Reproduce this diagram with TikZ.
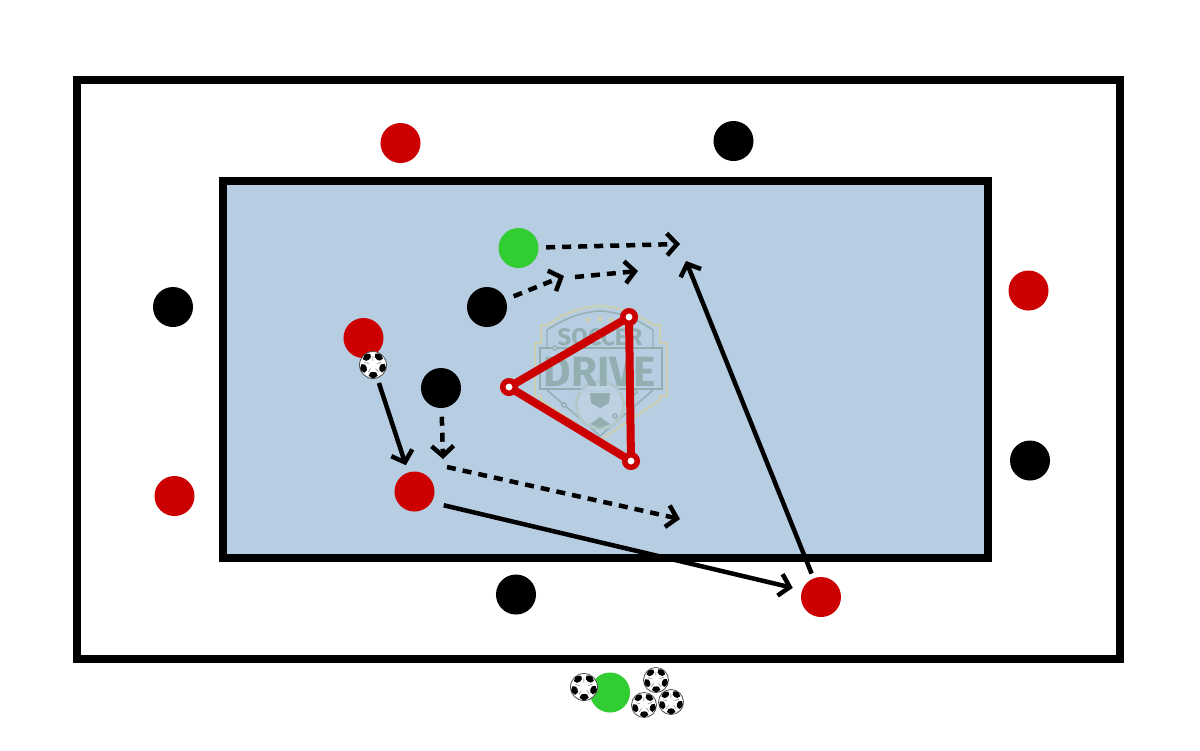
\documentclass[tikz,border=0pt]{standalone}
\usepackage{fontspec}
\setsansfont{Fira Sans}
\usepackage{xcolor}
\usetikzlibrary{arrows.meta,shapes.geometric}
\definecolor{pitchblue}{HTML}{B7CDE1}
\definecolor{playerred}{HTML}{CC0000}
\definecolor{playergreen}{HTML}{32CD32}
\definecolor{logogrey}{HTML}{92AEB0}
\definecolor{logopale}{HTML}{CBD1B0}
\tikzset{
  player/.style={circle,inner sep=0pt,minimum size=0.4cm,fill=#1},
  cone/.style={circle,inner sep=0pt,minimum size=0.125cm,fill=white,draw=playerred,line width=0.055cm},
  line/.style={line width=0.08cm,draw=black},
  run/.style={line width=0.045cm,->,dash pattern=on 0.09cm off 0.07cm},
  pass/.style={line width=0.045cm,->},
  ball/.style={circle,inner sep=0pt,minimum size=#1,fill=white,draw=black!70,line width=0.008cm,
    path picture={\begin{scope}[shift={(path picture bounding box.center)},x=#1,y=#1]
      \foreach \a in {55,127,199,271,343} {
        \fill[black] (\a:0.25) -- (\a+22:0.3) -- (\a+23:0.43) -- (\a:0.52) -- (\a-23:0.43) -- (\a-22:0.3) -- cycle;
        \draw[black!60,line width=0.004cm] (\a+36:0.16) -- (\a+36:0.33);
      }
    \end{scope}}},
}
\begin{document}
\begin{tikzpicture}[x=0.01cm,y=-0.01cm,>={Straight Barb[length=0.1cm,width=0.22cm]}]
\useasboundingbox (0,0) rectangle (1200,750);
\draw[line] (77,80) rectangle (1120,659);
\draw[line,fill=pitchblue] (223,181) rectangle (988,558);
% logo
\draw[logopale,line width=0.02cm] (600,306) .. controls (580,307) and (560,315) .. (548,325) -- (541,325) -- (541,343) -- (535,343) -- (535,396) -- (541,396) -- (541,400) -- (600,440) -- (660,400) -- (660,396) -- (667,396) -- (667,343) -- (660,343) -- (660,325) -- (653,325) .. controls (640,315) and (620,307) .. (600,306) -- cycle;
\draw[logogrey,line width=0.014cm] (600,311) .. controls (582,312) and (565,318) .. (547,330) -- (547,348);
\draw[logogrey,line width=0.014cm] (600,311) .. controls (618,312) and (635,318) .. (653,330) -- (653,348);
\draw[logogrey,line width=0.014cm] (547,390) -- (600,436) -- (653,390);
\draw[logogrey,line width=0.014cm] (540,348) rectangle (662,389);
\fill[logogrey!70] (600,405) circle (25);
\fill[pitchblue!92!white] (600,405) circle (22);
\fill[logogrey] (590,393) -- (610,393) -- (609,403) -- (600,408) -- (591,403) -- cycle;
\fill[logogrey] (590,424) -- (600,417) -- (610,424) -- (600,428) -- cycle;
\fill[pitchblue] (560,389.5) rectangle (640,392);
\foreach \i/\j in {555/348,564/405,635/392,615/416} \draw[logogrey,fill=pitchblue,line width=0.012cm] (\i,\j) circle (2.2);
\foreach \i/\j in {588/320,600/319,611/320} \node[star,fill=logopale,inner sep=0pt,minimum size=0.06cm] (star\i) at (\i,\j) {};
\node[text=logogrey,inner sep=0pt] (soccer) at (600,337) {\sffamily\bfseries\fontsize{6.8}{8}\selectfont SOCCER};
\node[text=logogrey,inner sep=0pt] (drive) at (600,372) {\sffamily\bfseries\fontsize{12}{14}\selectfont DRIVE};
% cones
\coordinate (corner1) at (629,317);
\coordinate (corner2) at (509,387);
\coordinate (corner3) at (631,461);
\draw[playerred,line width=0.08cm] (corner1) -- (corner2) -- (corner3) -- cycle;
\node[cone] (cone1) at (corner1) {};
\node[cone] (cone2) at (corner2) {};
\node[cone] (cone3) at (corner3) {};
% players
\node[player=playerred] (red1) at (400.5,143) {};
\node[player=playerred] (red2) at (363.5,338) {};
\node[player=playerred] (red3) at (1028.5,290.5) {};
\node[player=playerred] (red4) at (174.5,496) {};
\node[player=playerred] (red5) at (414.5,491.5) {};
\node[player=playerred] (red6) at (821,597) {};
\node[player=black] (black1) at (733.5,141) {};
\node[player=black] (black2) at (173,307) {};
\node[player=black] (black3) at (487,307) {};
\node[player=black] (black4) at (441,388) {};
\node[player=black] (black5) at (1030,460.5) {};
\node[player=black] (black6) at (516,594.5) {};
\node[player=playergreen] (green1) at (518.5,248) {};
\node[player=playergreen] (green2) at (610,692.5) {};
% balls
\node[ball=0.27cm] (ball1) at (373,365) {};
\node[ball=0.27cm] (ball2) at (584,687) {};
\node[ball=0.25cm] (ball3) at (656,680) {};
\node[ball=0.25cm] (ball4) at (644,705) {};
\node[ball=0.25cm] (ball5) at (671,702) {};
% runs
\coordinate (end1) at (680,244);
\coordinate (turn1) at (564,276);
\coordinate (from1) at (575,277);
\coordinate (end2) at (638,271);
\coordinate (turn2) at (443,459);
\coordinate (from2) at (447,467);
\coordinate (end3) at (680,519);
\coordinate (end4) at (686,261);
\draw[run,shorten <=0.07cm] (green1) -- (end1);
\draw[run,shorten <=0.08cm] (black3) -- (turn1);
\draw[run] (from1) -- (end2);
\draw[run,shorten <=0.08cm] (black4) -- (turn2);
\draw[run] (from2) -- (end3);
% passes
\draw[pass,shorten <=0.05cm,shorten >=0.07cm] (ball1) -- (red5);
\draw[pass,shorten <=0.12cm,shorten >=0.09cm] (red5.-32) -- (red6.160);
\draw[pass,shorten <=0.045cm] (red6) -- (end4);
\end{tikzpicture}
\end{document}
